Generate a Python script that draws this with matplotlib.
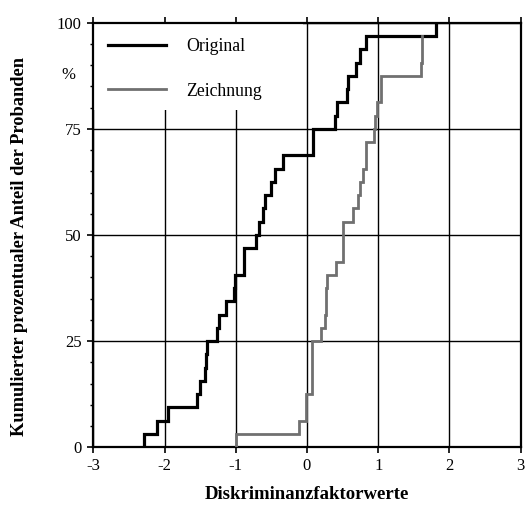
import numpy as np
import matplotlib
matplotlib.use('Agg')
from matplotlib import pyplot as plt
from matplotlib.patches import Rectangle
from matplotlib.ticker import MultipleLocator
import matplotlib.transforms as mtransforms

plt.rcParams['font.family'] = ['Liberation Serif', 'DejaVu Serif']
plt.rcParams['axes.unicode_minus'] = False

n_subjects = 32

# sorted discriminant factor values per subject
original_values = [-2.29, -2.11, -1.95, -1.54, -1.50, -1.43, -1.42, -1.40,
                   -1.27, -1.23, -1.14, -1.02, -1.01, -0.89, -0.89, -0.72,
                   -0.67, -0.62, -0.59, -0.51, -0.45, -0.34, 0.08, 0.08,
                   0.40, 0.42, 0.56, 0.57, 0.69, 0.75, 0.83, 1.81]
drawing_values = [-1.00, -0.11, -0.01, -0.01, 0.075, 0.075, 0.075, 0.075,
                  0.20, 0.25, 0.26, 0.27, 0.28, 0.41, 0.51, 0.51,
                  0.51, 0.65, 0.72, 0.75, 0.78, 0.83, 0.83, 0.94,
                  0.96, 0.98, 1.04, 1.04, 1.60, 1.61, 1.62]

series = [
    ('Original', original_values, '#000000', 2.3),
    ('Zeichnung', drawing_values, '#707070', 2.0),
]


def ecdf_path(values):
    xs = np.sort(np.asarray(values, dtype=float))
    pct = np.arange(1, len(xs) + 1) / n_subjects * 100.0
    x = np.concatenate([[xs[0]], xs])
    y = np.concatenate([[0.0], pct])
    return x, y


fig = plt.figure(figsize=(5.29, 5.07), dpi=100)
ax = fig.add_axes([93.3 / 529, 1 - 447.3 / 507, 427.4 / 529, 424.6 / 507])

for label, values, color, lw in series:
    x, y = ecdf_path(values)
    ax.step(x, y, where='post', color=color, linewidth=lw, label=label,
            solid_joinstyle='miter', zorder=3)

ax.set_xlim(-3, 3)
ax.set_ylim(0, 100)
ax.set_xticks(range(-3, 4))
ax.set_yticks([0, 25, 50, 75, 100])
ax.yaxis.set_minor_locator(MultipleLocator(5))

ax.set_axisbelow(True)
ax.grid(True, which='major', color='black', linewidth=1.0)

# white area behind the legend hides the grid there
ax.add_patch(Rectangle((0, 0.794), 0.49, 0.206, transform=ax.transAxes,
                       facecolor='white', edgecolor='none', zorder=1.5))

for s in ax.spines.values():
    s.set_linewidth(1.6)

ax.tick_params(axis='both', which='major', direction='out', length=4.5,
               width=1.2, labelsize=12)
ax.tick_params(axis='x', which='major', pad=3)
ax.tick_params(axis='y', which='major', pad=4)
ax.tick_params(axis='y', which='minor', direction='out', length=2.5, width=1.0)
ax.tick_params(axis='x', which='major', top=True, labeltop=False)

ax.set_xlabel('Diskriminanzfaktorwerte', fontsize=13.5, fontweight='bold',
              labelpad=9)
ax.set_ylabel('Kumulierter prozentualer Anteil der Probanden', fontsize=13.2,
              fontweight='bold')
ax.yaxis.set_label_coords(-0.153, 0.472)

trans = mtransforms.blended_transform_factory(ax.transAxes, ax.transData)
ax.text(-0.059, 87.7, '%', transform=trans, ha='center', va='center',
        fontsize=12)

leg = ax.legend(loc='upper left', bbox_to_anchor=(0.034, 0.964), frameon=False,
                fontsize=12.8, handlelength=3.3, handletextpad=1.1,
                labelspacing=1.55, borderaxespad=0, borderpad=0)
leg.set_zorder(4)

fig.savefig('out.png', dpi=100)
